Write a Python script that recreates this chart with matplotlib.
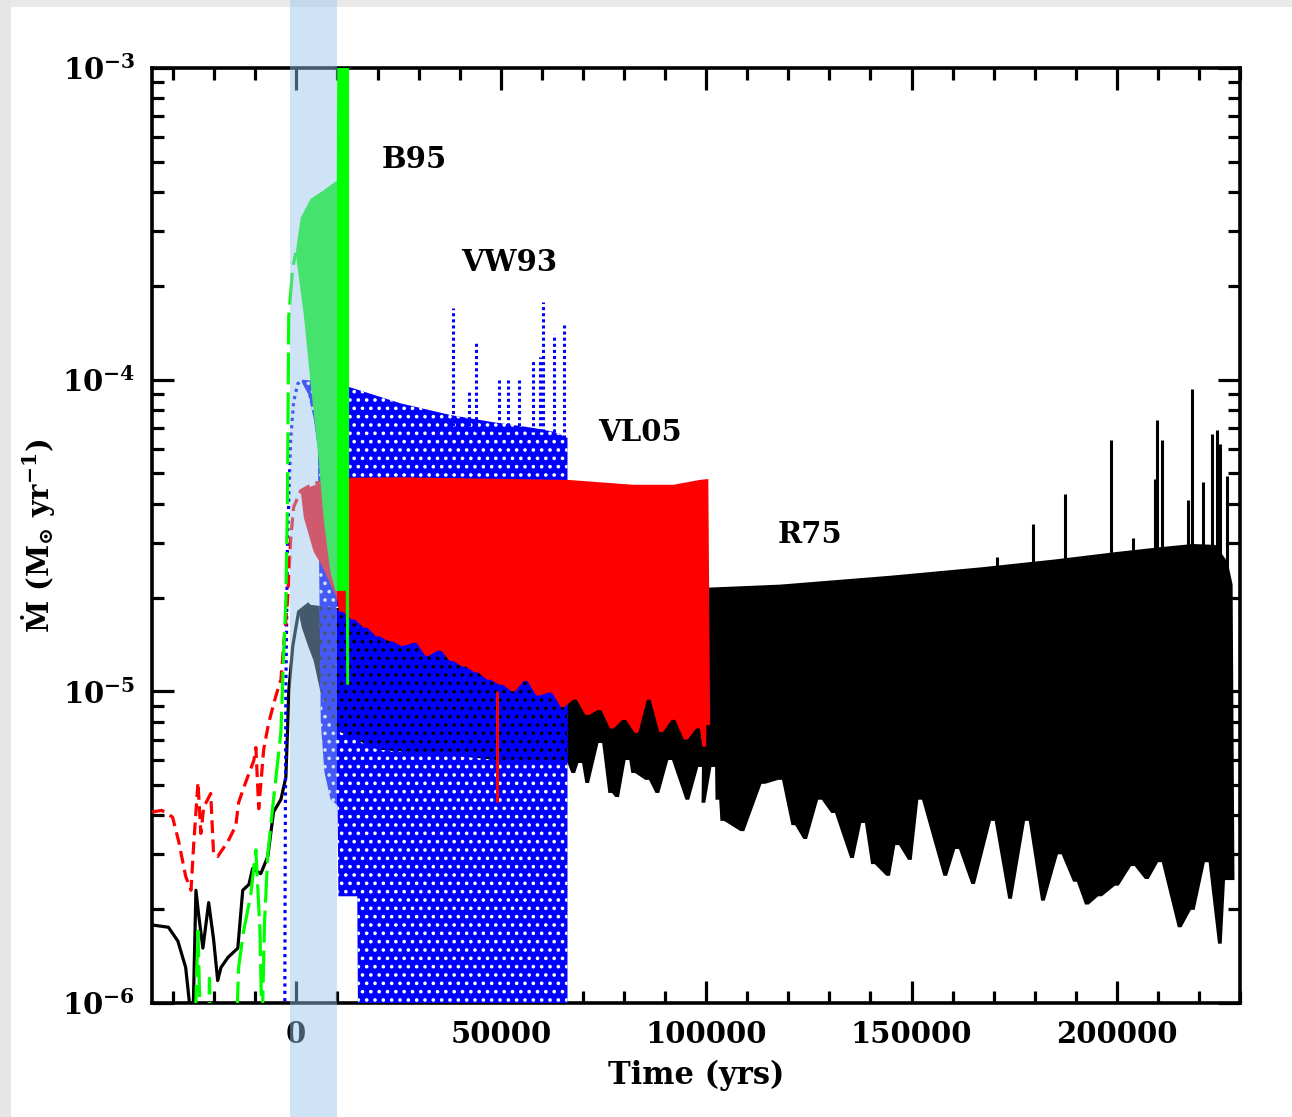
import numpy as np
import matplotlib.pyplot as plt
from matplotlib.patches import Rectangle
from matplotlib.ticker import LogLocator, NullFormatter, MultipleLocator, FixedLocator
from matplotlib.transforms import blended_transform_factory

plt.rcParams['font.family'] = 'DejaVu Serif'
plt.rcParams['font.weight'] = 'bold'
plt.rcParams['mathtext.fontset'] = 'dejavuserif'
plt.rcParams['hatch.linewidth'] = 1.4

# ---------------- R75 (black, solid) ----------------
r75_pre_t = [-35000, -31000, -28700, -26800, -25700, -25000, -24300, -23600, -22600,
             -21200, -20000, -19000, -18200, -16500, -14100, -12900, -11400, -10500,
             -8500, -6800, -5400, -3600, -2400, -2000, -1700, -700, 700, 3000]
r75_pre_m = [1.78e-6, 1.75e-6, 1.58e-6, 1.3e-6, 0.95e-6, 0.9e-6, 2.3e-6, 1.9e-6, 1.5e-6,
             2.1e-6, 1.6e-6, 1.18e-6, 1.3e-6, 1.4e-6, 1.5e-6, 2.3e-6, 2.4e-6, 2.7e-6,
             2.6e-6, 2.95e-6, 4.1e-6, 4.5e-6, 5.3e-6, 7.4e-6, 1.0e-5, 1.4e-5, 1.8e-5, 1.9e-5]

r75_up_t = [700, 3000, 10000, 40000, 70000, 100000, 118000, 145000, 167000, 185000,
            200000, 210500, 218500, 224000, 227000, 228200]
r75_up_m = [1.8e-5, 1.9e-5, 1.85e-5, 1.95e-5, 2.05e-5, 2.15e-5, 2.2e-5, 2.35e-5, 2.5e-5,
            2.65e-5, 2.8e-5, 2.9e-5, 2.97e-5, 2.95e-5, 2.6e-5, 2.2e-5]

r75_lo_t = [700, 1500, 3000, 4400, 6000, 8000, 10000, 20000, 35000, 50000, 60000, 66000]
r75_lo_m = [1.8e-5, 1.6e-5, 1.4e-5, 1.25e-5, 1.0e-5, 8.5e-6, 7.5e-6, 6.5e-6, 6.3e-6,
            6.0e-6, 6.0e-6, 6.0e-6]

# troughs of the individual pulses along the lower edge
r75_dip_t = [67600, 69300, 71000, 74200, 76600, 78300, 80800, 82200, 85600, 88100,
             91200, 95400, 98500, 99300, 101700, 102700, 103900, 108800, 113900, 118000,
             121200, 124100, 127700, 130900, 135500, 138200, 140600, 144300, 146500, 149600,
             152100, 158200, 161100, 165000, 169800, 174000, 178100, 182000, 186100, 189800,
             192700, 195900, 200000, 203900, 207300, 210500, 215300, 218500, 221900, 225100,
             226800, 228200]
r75_dip_m = [5.47e-6, 5.89e-6, 5.08e-6, 6.83e-6, 4.72e-6, 4.58e-6, 6.02e-6, 5.47e-6, 5.2e-6, 4.72e-6,
             6.02e-6, 4.49e-6, 5.72e-6, 4.39e-6, 5.72e-6, 4.49e-6, 3.84e-6, 3.56e-6, 5.05e-6, 5.2e-6,
             3.72e-6, 3.36e-6, 4.49e-6, 4.07e-6, 2.92e-6, 3.78e-6, 2.79e-6, 2.56e-6, 3.21e-6, 2.88e-6,
             4.49e-6, 2.56e-6, 3.12e-6, 2.41e-6, 3.84e-6, 2.16e-6, 3.84e-6, 2.13e-6, 3.0e-6, 2.45e-6,
             2.07e-6, 2.2e-6, 2.38e-6, 2.75e-6, 2.5e-6, 2.83e-6, 1.75e-6, 1.99e-6, 2.83e-6, 1.55e-6,
             2.48e-6, 2.48e-6]

r75_spike_t = [170800, 179600, 187300, 198500, 203900, 209200, 209700, 211000, 217300,
               218200, 220900, 223100, 224300, 225100, 226800]
r75_spike_m = [2.7e-5, 3.44e-5, 4.3e-5, 6.4e-5, 3.1e-5, 4.8e-5, 7.4e-5, 6.4e-5, 4.1e-5,
               9.3e-5, 4.7e-5, 6.7e-5, 6.9e-5, 6.2e-5, 4.9e-5]

# ---------------- VW93 (blue, dotted) ----------------
vw93_pre_t = [-2700, -2600, -2400, -2000, -1200, -500, 500, 1500]
vw93_pre_m = [5e-7, 2e-6, 1e-5, 3e-5, 6.5e-5, 8.5e-5, 9.7e-5, 1e-4]

vw93_up_t = [1500, 5000, 12700, 25500, 37700, 48200, 57900, 63000, 66200]
vw93_up_m = [1e-4, 9.9e-5, 9.5e-5, 8.4e-5, 7.7e-5, 7.3e-5, 7.0e-5, 6.8e-5, 6.5e-5]

vw93_lo_t = [1500, 3000, 4400, 5400, 5900, 6100, 7000, 8500, 10200, 10400, 15000, 15300, 66200]
vw93_lo_m = [9.8e-5, 9.0e-5, 7.5e-5, 6.0e-5, 1.5e-5, 8e-6, 5.5e-6, 4.5e-6, 4.3e-6, 2.2e-6,
             2.2e-6, 5e-7, 5e-7]

vw93_spike_t = [38400, 42300, 44000, 49600, 51600, 54300, 57700, 59600, 60300, 62800, 65400]
vw93_spike_m = [1.7e-4, 9.1e-5, 1.31e-4, 1.0e-4, 1.0e-4, 1.0e-4, 1.15e-4, 1.18e-4, 1.77e-4,
                1.4e-4, 1.5e-4]

# ---------------- VL05 (red, dashed) ----------------
vl05_pre_t = [-35000, -32600, -30000, -28500, -26800, -25500, -24800, -23800, -23100, -22400,
              -20700, -20000, -19000, -16500, -14600, -13900, -12200, -10200, -9700, -9000,
              -7800, -6600, -4900, -3600, -2900, -2000, -1200, -500, 1200, 4400, 6600]
vl05_pre_m = [4.1e-6, 4.15e-6, 3.95e-6, 3.3e-6, 2.55e-6, 2.3e-6, 3.3e-6, 5.1e-6, 3.5e-6, 4.25e-6,
              4.7e-6, 3.0e-6, 2.95e-6, 3.3e-6, 3.7e-6, 4.4e-6, 5.1e-6, 6.0e-6, 6.6e-6, 4.2e-6,
              6.5e-6, 7.9e-6, 9.6e-6, 1.09e-5, 1.42e-5, 1.95e-5, 3.1e-5, 3.9e-5, 4.4e-5, 4.65e-5,
              4.7e-5]

vl05_up_t = [1200, 6600, 10000, 25500, 66200, 82200, 92000, 98500, 100500]
vl05_up_m = [4.4e-5, 4.7e-5, 4.84e-5, 4.86e-5, 4.77e-5, 4.6e-5, 4.6e-5, 4.77e-5, 4.8e-5]

vl05_lo_t = [1200, 2000, 4400, 6600, 8500, 10000]
vl05_lo_m = [4.4e-5, 3.6e-5, 2.8e-5, 2.5e-5, 2.2e-5, 2.0e-5]

vl05_dip_t = [11000, 14000, 17000, 20000, 23000, 26000, 29000, 32000, 35000, 38000,
              41000, 44000, 47000, 50000, 53000, 56000, 59000, 62000, 65000, 68000,
              71000, 74000, 77000, 80000, 83000, 86000, 89000, 92000, 95000, 98000,
              99500, 100500]
vl05_dip_m = [1.8e-5, 1.7e-5, 1.6e-5, 1.5e-5, 1.45e-5, 1.4e-5, 1.43e-5, 1.3e-5, 1.35e-5, 1.25e-5,
              1.2e-5, 1.15e-5, 1.09e-5, 1.05e-5, 1.0e-5, 1.08e-5, 9.7e-6, 9.9e-6, 8.9e-6, 9.4e-6,
              8.4e-6, 8.7e-6, 7.6e-6, 8.1e-6, 7.36e-6, 9.4e-6, 7.4e-6, 8.1e-6, 7.0e-6, 7.6e-6,
              6.64e-6, 7.8e-6]

vl05_spike_t = [49100]
vl05_spike_m = [4.4e-6]

# ---------------- B95 (green, long dashed) ----------------
b95_pre_t = [-25000, -23800, -22800, -21500, -21000, -20300, -15000, -13900, -12700, -11000,
             -9700, -8700, -8200, -7600, -6800, -5400, -3600, -2900, -2400, -2000, -1700,
             -700, 0]
b95_pre_m = [5e-7, 1.7e-6, 5e-7, 5e-7, 1.2e-6, 5e-7, 5e-7, 1.3e-6, 1.7e-6, 2.2e-6,
             3.1e-6, 1.7e-6, 8e-7, 1.8e-6, 3.0e-6, 4.5e-6, 7.4e-6, 1.36e-5, 1.95e-5, 4.1e-5,
             1.59e-4, 2.3e-4, 2.55e-4]

b95_up_t = [0, 1200, 3600, 6800, 10000, 10200, 13000]
b95_up_m = [2.55e-4, 3.3e-4, 3.8e-4, 4.05e-4, 4.35e-4, 2e-3, 2e-3]

b95_lo_t = [0, 2000, 3600, 5400, 6800, 7800, 8500, 9700, 12200, 12300, 13000]
b95_lo_m = [2.55e-4, 1.6e-4, 9.8e-5, 5.9e-5, 3.6e-5, 2.8e-5, 2.4e-5, 2.1e-5, 2.1e-5,
            1.05e-5, 1.05e-5]

# highlighted time window
window = (-1500, 10000)

labels = [('B95', 20900, 5.07e-4), ('VW93', 40400, 2.37e-4),
          ('VL05', 73700, 6.75e-5), ('R75', 117300, 3.18e-5)]


def notches(t, m, w=900):
    # each trough is a short flat notch of width w
    xs, ys = [], []
    for ti, mi in zip(t, m):
        xs += [ti - w / 2, ti + w / 2]
        ys += [mi, mi]
    return xs, ys


def envelope(ax, up_t, up_m, lo_t, lo_m, **kw):
    xs = list(up_t) + list(lo_t)[::-1]
    ys = list(up_m) + list(lo_m)[::-1]
    return ax.fill(xs, ys, linewidth=0, **kw)[0]


fig = plt.figure(figsize=(12.92, 11.17), dpi=100)
ax = fig.add_axes([152 / 1292, 1 - 1003 / 1117, 1088 / 1292, 935 / 1117])
ax.set_yscale('log')

lw = 2.3

# R75
dx, dy = notches(r75_dip_t, r75_dip_m)
r75_lo_all = (r75_lo_t + dx, r75_lo_m + dy)
envelope(ax, r75_up_t, r75_up_m, *r75_lo_all, color='black', zorder=2)
ax.plot(r75_pre_t, r75_pre_m, color='black', lw=lw, zorder=2)
ax.vlines(r75_spike_t, 2.2e-5, r75_spike_m, color='black', lw=2.2, zorder=2)

# VW93: white gaps of the dotted curves, black gaps where R75 lies underneath
blue = envelope(ax, vw93_up_t, vw93_up_m, vw93_lo_t, vw93_lo_m, facecolor='#0000ff',
                edgecolor='white', hatch='..', zorder=3)
under = envelope(ax, r75_up_t, r75_up_m, *r75_lo_all, facecolor='#0000ff',
                 edgecolor='black', hatch='..', zorder=3.1)
under.set_clip_path(blue)
ax.plot(vw93_pre_t, vw93_pre_m, color='#0000ff', lw=lw, dashes=(1, 1.3), zorder=3)
ax.vlines(vw93_spike_t, 6.5e-5, vw93_spike_m, color='#0000ff', lw=2.2,
          linestyles=(0, (1, 1)), zorder=3)

# VL05
dx, dy = notches(vl05_dip_t, vl05_dip_m)
envelope(ax, vl05_up_t, vl05_up_m, vl05_lo_t + dx, vl05_lo_m + dy, color='#ff0000', zorder=4)
ax.plot(vl05_pre_t, vl05_pre_m, color='#ff0000', lw=lw, dashes=(4, 2), zorder=4)
ax.vlines(vl05_spike_t, 1.0e-5, vl05_spike_m, color='#ff0000', lw=2.2, zorder=4)

# B95
envelope(ax, b95_up_t, b95_up_m, b95_lo_t, b95_lo_m, color='#00ff00', zorder=5)
ax.plot(b95_pre_t, b95_pre_m, color='#00ff00', lw=lw, dashes=(10, 2.5), zorder=5)

for name, tx, ty in labels:
    ax.text(tx, ty, name, fontsize=21, fontweight='bold', ha='left', va='center', zorder=6)

ax.set_xlim(-35000, 230000)
ax.set_ylim(1e-6, 1e-3)

ax.xaxis.set_major_locator(FixedLocator([0, 50000, 100000, 150000, 200000]))
ax.set_xticklabels(['0', '50000', '100000', '150000', '200000'])
ax.xaxis.set_minor_locator(MultipleLocator(10000))

ax.set_yticks([1e-6, 1e-5, 1e-4, 1e-3])
ax.set_yticklabels([r'$\mathbf{10^{-6}}$', r'$\mathbf{10^{-5}}$',
                    r'$\mathbf{10^{-4}}$', r'$\mathbf{10^{-3}}$'])
ax.yaxis.set_minor_locator(LogLocator(base=10, subs=np.arange(2, 10)))
ax.yaxis.set_minor_formatter(NullFormatter())

ax.tick_params(which='both', direction='in', top=True, right=True, width=2.3,
               labelsize=21)
ax.tick_params(which='major', length=16, pad=12)
ax.tick_params(which='minor', length=8.5)
for s in ax.spines.values():
    s.set_linewidth(2.6)

ax.set_xlabel('Time (yrs)', fontsize=22, fontweight='bold', labelpad=8)
ax.set_ylabel('\u1e40 ($\\mathbf{M_{\\odot}}$ $\\mathbf{yr^{-1}}$)', fontsize=21,
              fontweight='bold', labelpad=4)

# light grey frame strips along the top and left edges
fig.add_artist(Rectangle((0, 1 - 7 / 1117), 1, 7 / 1117, transform=fig.transFigure,
                         facecolor='#e9e9e9', edgecolor='none', zorder=-1))
fig.add_artist(Rectangle((0, 0), 11 / 1292, 1, transform=fig.transFigure,
                         facecolor='#e6e6e6', edgecolor='none', zorder=-1))

# translucent band over the whole figure height
trans = blended_transform_factory(ax.transData, fig.transFigure)
fig.add_artist(Rectangle((window[0], 0), window[1] - window[0], 1, transform=trans,
                         facecolor=(152 / 255, 196 / 255, 239 / 255), alpha=0.46,
                         edgecolor='none', zorder=10))

fig.savefig('out.png', dpi=100)
